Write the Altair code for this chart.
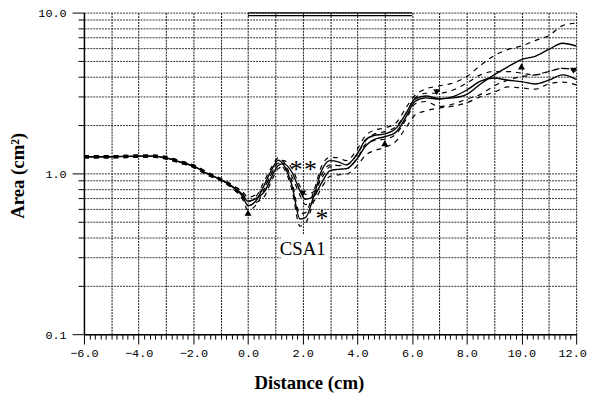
import altair as alt
import pandas as pd

# ---- data ----
x = [-6, -5, -4, -3.5, -3, -2.5, -2, -1.5, -1, -0.5,
     -0.2, 0, 0.3, 0.6, 0.9, 1.1, 1.3, 1.6, 1.9, 2.1,
     2.4, 2.7, 3.0, 3.3, 3.6, 4.0, 4.3, 4.6, 5.0, 5.4,
     5.8, 6.1, 6.5, 7.0, 7.5, 8.0, 8.5, 9.0, 9.5, 10.0,
     10.5, 11.0, 11.5, 12.0]

mean_a = [1.27, 1.27, 1.28, 1.28, 1.25, 1.18, 1.11, 1.00, 0.915, 0.81,
          0.72, 0.63, 0.68, 0.85, 1.08, 1.21, 1.13, 0.85, 0.52, 0.53,
          0.72, 1.05, 1.20, 1.18, 1.13, 1.33, 1.62, 1.72, 1.76, 1.90,
          2.40, 2.90, 3.03, 2.92, 2.95, 3.10, 3.60, 4.10, 4.60, 5.10,
          5.35, 5.90, 6.45, 6.20]
hi_a = [1.29, 1.29, 1.30, 1.30, 1.27, 1.20, 1.13, 1.02, 0.93, 0.83,
        0.75, 0.67, 0.72, 0.90, 1.12, 1.25, 1.18, 0.90, 0.56, 0.57,
        0.77, 1.12, 1.26, 1.25, 1.20, 1.42, 1.72, 1.85, 1.92, 2.05,
        2.60, 3.05, 3.35, 3.50, 3.65, 4.00, 4.70, 5.40, 5.90, 6.20,
        6.70, 7.20, 8.30, 8.60]
lo_a = [1.25, 1.25, 1.26, 1.26, 1.23, 1.16, 1.09, 0.98, 0.90, 0.79,
        0.69, 0.59, 0.64, 0.80, 1.03, 1.16, 1.08, 0.80, 0.47, 0.49,
        0.67, 0.98, 1.13, 1.12, 1.07, 1.25, 1.52, 1.60, 1.63, 1.75,
        2.20, 2.70, 2.80, 2.60, 2.70, 2.90, 3.10, 3.50, 3.80, 4.00,
        4.10, 4.30, 4.50, 4.30]

mean_b = [1.27, 1.27, 1.28, 1.28, 1.25, 1.18, 1.11, 1.00, 0.915, 0.81,
          0.74, 0.67, 0.70, 0.77, 0.98, 1.12, 1.15, 1.02, 0.78, 0.69,
          0.72, 0.88, 1.04, 1.06, 1.07, 1.24, 1.48, 1.62, 1.69, 1.80,
          2.28, 2.80, 2.95, 2.90, 3.00, 3.30, 3.75, 3.92, 3.80, 3.72,
          3.60, 3.80, 4.10, 3.85]
hi_b = [1.29, 1.29, 1.30, 1.30, 1.27, 1.20, 1.13, 1.02, 0.93, 0.83,
        0.77, 0.71, 0.74, 0.82, 1.03, 1.17, 1.20, 1.08, 0.83, 0.74,
        0.77, 0.94, 1.10, 1.12, 1.13, 1.32, 1.60, 1.75, 1.82, 1.95,
        2.40, 2.95, 3.15, 3.15, 3.30, 3.65, 4.10, 4.30, 4.30, 4.20,
        4.10, 4.30, 4.50, 4.40]
lo_b = [1.25, 1.25, 1.26, 1.26, 1.23, 1.16, 1.09, 0.98, 0.90, 0.79,
        0.71, 0.63, 0.66, 0.72, 0.93, 1.07, 1.10, 0.96, 0.73, 0.64,
        0.67, 0.82, 0.96, 0.98, 0.99, 1.12, 1.30, 1.38, 1.45, 1.58,
        1.95, 2.30, 2.45, 2.55, 2.62, 2.75, 3.00, 3.20, 3.45, 3.40,
        3.34, 3.60, 3.70, 3.55]

up_x = [0.0, 5.0, 10.0]
up_y = [0.57, 1.54, 4.63]
down_x = [2.0, 6.9, 11.9]
down_y = [0.75, 3.2, 4.35]

star_x = [1.76, 2.28, 2.70]
star_y = [1.12, 1.12, 0.56]

label_text = ["CSA1"]
label_x = [2.0]
label_y = [0.34]
box_x = [1.2]
box_x2 = [2.95]
box_y = [0.29]
box_y2 = [0.415]

bar_x = [0.0, 0.0]
bar_x2 = [6.0, 6.0]
bar_y = [9.97, 9.58]

x_tick_vals = [round(-6 + 0.2 * i, 1) for i in range(91)]
y_tick_vals = [0.1, 0.2, 0.3, 0.4, 0.5, 0.6, 0.7, 0.8, 0.9,
               1, 2, 3, 4, 5, 6, 7, 8, 9, 10]

# ---- tables ----
solid = pd.concat([
    pd.DataFrame({"x": x, "y": mean_a, "s": "A"}),
    pd.DataFrame({"x": x, "y": mean_b, "s": "B"}),
])
dashed = pd.concat([
    pd.DataFrame({"x": x, "y": hi_a, "s": "A_hi"}),
    pd.DataFrame({"x": x, "y": lo_a, "s": "A_lo"}),
    pd.DataFrame({"x": x, "y": hi_b, "s": "B_hi"}),
    pd.DataFrame({"x": x, "y": lo_b, "s": "B_lo"}),
])
ups = pd.DataFrame({"x": up_x, "y": up_y})
downs = pd.DataFrame({"x": down_x, "y": down_y})
stars = pd.DataFrame({"x": star_x, "y": star_y, "t": ["*"] * len(star_x)})
labels = pd.DataFrame({"x": label_x, "y": label_y, "t": label_text})
box = pd.DataFrame({"x": box_x, "x2": box_x2, "y": box_y, "y2": box_y2})
bars = pd.DataFrame({"x": bar_x, "x2": bar_x2, "y": bar_y})

xscale = alt.Scale(domain=[-6, 12], nice=False, zero=False)
yscale = alt.Scale(type="log", domain=[0.1, 10], nice=False)

xaxis = alt.Axis(
    values=x_tick_vals,
    labelExpr="abs(datum.value - 2*round(datum.value/2)) < 0.01 ? format(datum.value, '.1f') : ''",
    tickSize={"condition": {"test": "abs(datum.value - 2*round(datum.value/2)) < 0.01", "value": 10}, "value": 5},
    labelOffset={"condition": {"test": "datum.value > 11.9", "value": -4}, "value": 0},
    tickColor="black", tickWidth=1,
    grid=True,
    gridOpacity={"condition": {"test": "abs(datum.value - round(datum.value)) < 0.01", "value": 1}, "value": 0},
    gridDash=[2, 1], gridColor="#111", gridWidth=1,
    domainColor="black", domainWidth=1.5,
    labelFont="Liberation Mono", labelFontSize=12, labelColor="black",
    labelFlush=False, labelOverlap=False, labelPadding=4,
    title="Distance (cm)", titleFont="Liberation Serif", titleFontSize=19,
    titleFontWeight="bold", titleColor="black", titleX=228, titleY=40,
)
yaxis = alt.Axis(
    values=y_tick_vals,
    labelExpr="datum.value == 0.1 ? '0.1' : datum.value == 1 ? '1.0' : datum.value == 10 ? '10.0' : ''",
    tickSize={"condition": {"test": "datum.value == 0.1 || datum.value == 1 || datum.value == 10", "value": 12}, "value": 6},
    tickColor="black", tickWidth=1,
    grid=True, gridDash=[2, 1], gridColor="#333", gridWidth=1,
    domainColor="black", domainWidth=1.5,
    labelFont="Liberation Mono", labelFontSize=12, labelColor="black",
    labelOverlap=False, labelPadding=6,
    title="Area (cm²)", titleFont="Liberation Serif", titleFontSize=19,
    titleFontWeight="bold", titleColor="black", titleX=-57, titleY=165,
)

base_x = alt.X("x:Q", scale=xscale, axis=xaxis)
base_y = alt.Y("y:Q", scale=yscale, axis=yaxis)

box_layer = alt.Chart(box).mark_rect(color="white").encode(
    x=alt.X("x:Q", scale=xscale, axis=xaxis), x2="x2:Q",
    y=alt.Y("y:Q", scale=yscale, axis=yaxis), y2="y2:Q")

bar_layer = alt.Chart(bars).mark_rule(color="black", strokeWidth=1.2).encode(
    x=base_x, x2="x2:Q", y=base_y)

dash_layer = alt.Chart(dashed).mark_line(
    color="black", strokeWidth=1.2, strokeDash=[5, 5], interpolate="monotone"
).encode(x=base_x, y=base_y, detail="s:N")

solid_layer = alt.Chart(solid).mark_line(
    color="black", strokeWidth=1.4, interpolate="monotone"
).encode(x=base_x, y=base_y, detail="s:N")

up_layer = alt.Chart(ups).mark_point(
    shape="triangle-up", filled=True, color="black", size=50, opacity=1
).encode(x=base_x, y=base_y)
down_layer = alt.Chart(downs).mark_point(
    shape="triangle-down", filled=True, color="black", size=50, opacity=1
).encode(x=base_x, y=base_y)

star_layer = alt.Chart(stars).mark_text(
    font="Liberation Serif", fontSize=26, color="black", baseline="alphabetic", dy=13
).encode(x=base_x, y=base_y, text="t:N")

label_layer = alt.Chart(labels).mark_text(
    font="Liberation Serif", fontSize=19, color="black", baseline="middle"
).encode(x=base_x, y=base_y, text="t:N")

chart = alt.layer(
    box_layer, bar_layer, dash_layer, solid_layer, up_layer, down_layer,
    star_layer, label_layer
).properties(
    width=499, height=326,
    autosize=alt.AutoSizeParams(type="none"),
    padding={"left": 77, "top": 2, "right": 13, "bottom": 60},
    background="white",
).configure_view(stroke=None)

chart.save("out.html", embed_options={"renderer": "svg", "actions": False})
